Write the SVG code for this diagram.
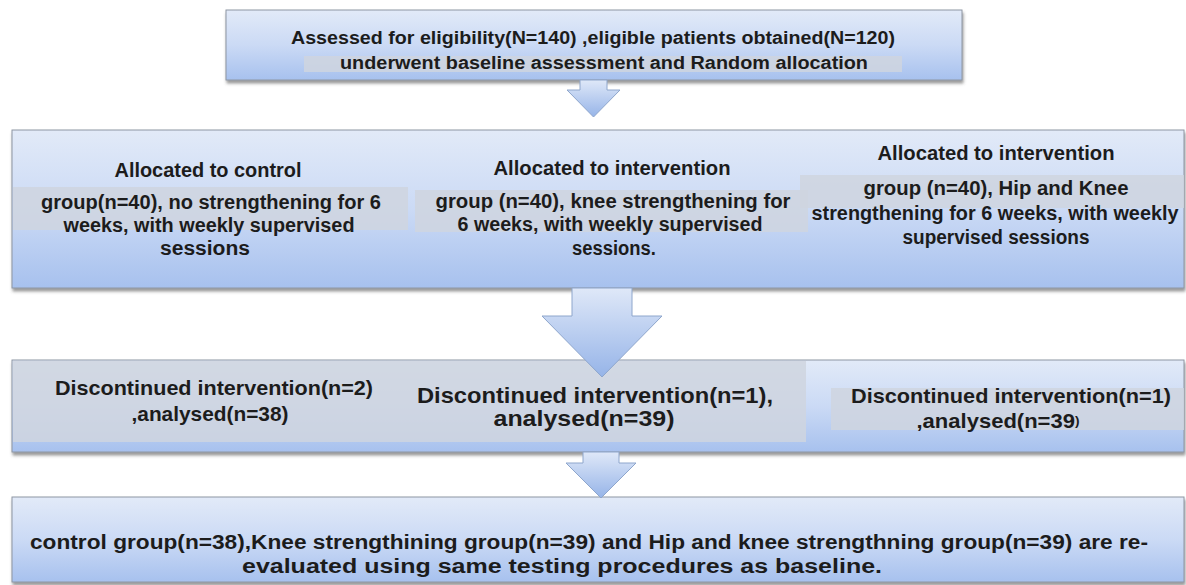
<svg xmlns="http://www.w3.org/2000/svg" width="1186" height="585" viewBox="0 0 1186 585">
<defs>
<linearGradient id="boxGrad" x1="0" y1="0" x2="0" y2="1">
<stop offset="0" stop-color="#e2eaf8"/>
<stop offset="0.5" stop-color="#cbdaf5"/>
<stop offset="1" stop-color="#a7c1ee"/>
</linearGradient>
<linearGradient id="arrowGrad" x1="0" y1="0" x2="0" y2="1">
<stop offset="0" stop-color="#dfe8f8"/>
<stop offset="1" stop-color="#96b4e8"/>
</linearGradient>
<filter id="shadow" x="-5%" y="-10%" width="110%" height="130%">
<feDropShadow dx="1" dy="3" stdDeviation="1.5" flood-color="#555" flood-opacity="0.6"/>
</filter>
</defs>
<style>
.box{fill:url(#boxGrad);stroke:#8e96a3;stroke-width:1;filter:url(#shadow)}
.band{fill:#cfd5df;opacity:0.85}
.arrow{fill:url(#arrowGrad);stroke:#8ea6cc;stroke-width:1}
text{font-family:"Liberation Sans",Arial,sans-serif;font-weight:bold;fill:#1c1c1c;text-anchor:middle;dominant-baseline:central}
.t18{font-size:18px}
.t20{font-size:20px}
.t21{font-size:21px}
.t22{font-size:22px}
</style>
<rect width="1186" height="585" fill="#ffffff"/>

<g id="n1">
<rect class="box" x="226" y="10" width="736" height="70"/>
<rect class="band" x="304" y="56" width="598" height="16"/>
<text class="t18" x="593" y="38" textLength="604" lengthAdjust="spacingAndGlyphs">Assessed for eligibility(N=140) ,eligible patients obtained(N=120)</text>
<text class="t18" x="604" y="63" textLength="528" lengthAdjust="spacingAndGlyphs">underwent baseline assessment  and Random allocation</text>
</g>

<g id="n2">
<rect class="box" x="12" y="130" width="1172" height="158"/>
<rect class="band" x="13" y="187" width="395" height="43"/>
<rect class="band" x="415" y="190" width="393" height="42"/>
<rect class="band" x="800" y="175" width="384" height="33"/>
<text class="t20" x="208" y="170" textLength="187" lengthAdjust="spacingAndGlyphs">Allocated to control</text>
<text class="t20" x="211" y="202" textLength="340" lengthAdjust="spacingAndGlyphs">group(n=40), no strengthening for 6</text>
<text class="t20" x="209" y="225" textLength="291" lengthAdjust="spacingAndGlyphs">weeks, with weekly supervised</text>
<text class="t20" x="205" y="248" textLength="90" lengthAdjust="spacingAndGlyphs">sessions</text>
<text class="t20" x="612" y="168" textLength="237" lengthAdjust="spacingAndGlyphs">Allocated to intervention</text>
<text class="t20" x="613" y="201" textLength="355" lengthAdjust="spacingAndGlyphs">group (n=40), knee  strengthening for</text>
<text class="t20" x="610" y="224" textLength="305" lengthAdjust="spacingAndGlyphs">6 weeks, with weekly supervised</text>
<text class="t20" x="614" y="248" textLength="84" lengthAdjust="spacingAndGlyphs">sessions.</text>
<text class="t20" x="996" y="153" textLength="237" lengthAdjust="spacingAndGlyphs">Allocated to intervention</text>
<text class="t20" x="996" y="188" textLength="265" lengthAdjust="spacingAndGlyphs">group (n=40),  Hip and Knee</text>
<text class="t20" x="995" y="213" textLength="367" lengthAdjust="spacingAndGlyphs">strengthening for 6 weeks, with weekly</text>
<text class="t20" x="996" y="237" textLength="187" lengthAdjust="spacingAndGlyphs">supervised sessions</text>
</g>

<g id="n3">
<rect class="box" x="12" y="360" width="1172" height="92"/>
<rect class="band" x="13" y="361" width="398" height="81"/>
<rect class="band" x="411" y="361" width="395" height="81"/>
<rect class="band" x="831" y="388" width="353" height="42"/>
<text class="t21" x="214" y="387" textLength="318" lengthAdjust="spacingAndGlyphs">Discontinued intervention(n=2)</text>
<text class="t21" x="210" y="413" textLength="157" lengthAdjust="spacingAndGlyphs">,analysed(n=38)</text>
<text class="t22" x="595" y="395" textLength="356" lengthAdjust="spacingAndGlyphs">Discontinued intervention(n=1),</text>
<text class="t22" x="584" y="418" textLength="181" lengthAdjust="spacingAndGlyphs">analysed(n=39)</text>
<text class="t21" x="1011" y="395" textLength="320" lengthAdjust="spacingAndGlyphs">Discontinued intervention(n=1)</text>
<text class="t21" x="998" y="420" textLength="163" lengthAdjust="spacingAndGlyphs">,analysed(n=39<tspan font-size="13px">)</tspan></text>
</g>

<g id="n4">
<rect class="box" x="12" y="497" width="1172" height="85"/>
<text class="t20" x="589" y="542" textLength="1118" lengthAdjust="spacingAndGlyphs">control group(n=38),Knee strengthining group(n=39) and  Hip and knee strengthning group(n=39) are re-</text>
<text class="t20" x="562" y="566" textLength="640" lengthAdjust="spacingAndGlyphs">evaluated using same testing procedures as baseline.</text>
</g>

<g id="connectors">
<path class="arrow" d="M580,80 L607,80 L607,90 L620,90 L593.5,117 L567,90 L580,90 Z"/>
<path class="arrow" d="M572,288 L632,288 L632,316 L662,316 L602,377 L542,316 L572,316 Z"/>
<path class="arrow" d="M583,452 L619,452 L619,463 L636,463 L601,498 L566,463 L583,463 Z"/>
</g>
</svg>
